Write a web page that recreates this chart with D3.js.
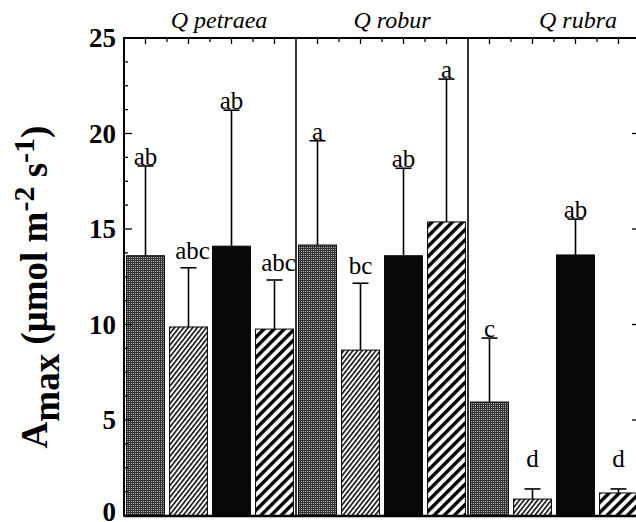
<!DOCTYPE html>
<html>
<head>
<meta charset="utf-8">
<script src="https://cdn.jsdelivr.net/npm/d3@7"></script>
<style>
  html, body { margin: 0; padding: 0; background: #fff; }
  svg { display: block; }
</style>
</head>
<body>
<div id="chart"></div>
<script>
// ---- data ----
const species = ["Q petraea", "Q robur", "Q rubra"];
const treatments = ["T1", "T2", "T3", "T4"];
const means = [
  [13.6, 9.87, 14.1, 9.76],
  [14.16, 8.66, 13.6, 15.37],
  [5.94, 0.86, 13.64, 1.18]
];
const errors = [
  [4.7, 3.1, 7.12, 2.57],
  [5.46, 3.5, 4.58, 7.48],
  [3.35, 0.53, 1.88, 0.21]
];
const letters = [
  ["ab", "abc", "ab", "abc"],
  ["a", "bc", "ab", "a"],
  ["c", "d", "ab", "d"]
];
const yTicks = [0, 5, 10, 15, 20, 25];

// ---- layout ----
const W = 636, H = 522;
const mLeft = 124, mRight = 640, mTop = 38, mBottom = 515.5;

const svg = d3.select("#chart").append("svg")
  .attr("width", W).attr("height", H)
  .style("font-family", "'Liberation Serif', 'Times New Roman', serif");

svg.append("rect").attr("width", W).attr("height", H).attr("fill", "#fff");

const defs = svg.append("defs");
const pStip = defs.append("pattern").attr("id", "stip")
  .attr("patternUnits", "userSpaceOnUse").attr("width", 2).attr("height", 2);
pStip.append("rect").attr("width", 2).attr("height", 2).attr("fill", "#333");
pStip.append("rect").attr("x", 1).attr("y", 1).attr("width", 1).attr("height", 1).attr("fill", "#b0b0b0");
const pFine = defs.append("pattern").attr("id", "fine")
  .attr("patternUnits", "userSpaceOnUse").attr("width", 3.6).attr("height", 10)
  .attr("patternTransform", "rotate(38)");
pFine.append("rect").attr("width", 3.6).attr("height", 10).attr("fill", "#fff");
pFine.append("rect").attr("width", 1.5).attr("height", 10).attr("fill", "#000");
const pCoarse = defs.append("pattern").attr("id", "coarse")
  .attr("patternUnits", "userSpaceOnUse").attr("width", 7.2).attr("height", 10)
  .attr("patternTransform", "rotate(45)");
pCoarse.append("rect").attr("width", 7.2).attr("height", 10).attr("fill", "#fff");
pCoarse.append("rect").attr("width", 3.4).attr("height", 10).attr("fill", "#000");

const fills = ["url(#stip)", "url(#fine)", "#080808", "url(#coarse)"];

const y = d3.scaleLinear().domain([0, 25]).range([mBottom, mTop]);
const x0 = d3.scaleBand().domain(species).range([mLeft, mRight]).paddingInner(0).paddingOuter(0);
const x1 = d3.scaleBand().domain(treatments).range([0, x0.bandwidth()]).paddingInner(0.12).paddingOuter(0.06);

const rows = [];
species.forEach((s, i) => treatments.forEach((t, j) => {
  rows.push({ s, t, j, m: means[i][j], e: errors[i][j], l: letters[i][j] });
}));

const cx = d => x0(d.s) + x1(d.t) + x1.bandwidth() / 2;

svg.append("g").selectAll("rect").data(rows).join("rect")
  .attr("x", d => x0(d.s) + x1(d.t))
  .attr("y", d => y(d.m))
  .attr("width", x1.bandwidth())
  .attr("height", d => y(0) - y(d.m))
  .attr("fill", d => fills[d.j])
  .attr("stroke", "#000").attr("stroke-width", 1);

const eb = svg.append("g").attr("stroke", "#000").attr("stroke-width", 1.6);
eb.selectAll("line.v").data(rows).join("line").attr("class", "v")
  .attr("x1", cx).attr("x2", cx)
  .attr("y1", d => y(d.m)).attr("y2", d => y(d.m + d.e));
eb.selectAll("line.c").data(rows).join("line").attr("class", "c")
  .attr("x1", d => cx(d) - 8).attr("x2", d => cx(d) + 8)
  .attr("y1", d => y(d.m + d.e)).attr("y2", d => y(d.m + d.e));

svg.append("g").selectAll("text").data(rows).join("text")
  .attr("x", d => cx(d) + (d.l.length > 2 ? 4 : 0))
  .attr("y", d => y(Math.max(d.m + d.e, 2.5)) - (d.l.length > 1 && d.l !== "ab" ? 9 : 1))
  .attr("text-anchor", "middle")
  .attr("font-size", 25)
  .text(d => d.l);

const frame = svg.append("g").attr("stroke", "#000").attr("fill", "none");
frame.append("line").attr("x1", mLeft).attr("x2", W).attr("y1", mTop).attr("y2", mTop).attr("stroke-width", 2);
frame.append("line").attr("x1", mLeft).attr("x2", mLeft).attr("y1", mTop - 1).attr("y2", mBottom + 1).attr("stroke-width", 2);
frame.append("line").attr("x1", mLeft).attr("x2", W).attr("y1", mBottom + 0.5).attr("y2", mBottom + 0.5).attr("stroke-width", 2.5);
species.slice(1).forEach(s => {
  frame.append("line").attr("x1", x0(s)).attr("x2", x0(s)).attr("y1", mTop).attr("y2", mBottom).attr("stroke-width", 1.6);
});

const minor = d3.range(0, 25.001, 1.25);
const ticksG = svg.append("g").attr("stroke", "#000").attr("stroke-width", 1.3);
ticksG.selectAll("line.lm").data(minor).join("line").attr("class", "lm")
  .attr("x1", mLeft).attr("x2", d => mLeft + (yTicks.includes(d) ? 8 : 4))
  .attr("y1", d => y(d)).attr("y2", d => y(d));
ticksG.selectAll("line.rm").data(minor).join("line").attr("class", "rm")
  .attr("x1", mRight).attr("x2", d => mRight - (yTicks.includes(d) ? 8 : 4))
  .attr("y1", d => y(d)).attr("y2", d => y(d));
const topTicks = [];
species.forEach(s => treatments.forEach((t, k) => {
  topTicks.push({ x: x0(s) + x1(t) + x1.bandwidth() / 2, major: true });
  if (k > 0) topTicks.push({ x: x0(s) + x1(t) - x1.step() * x1.paddingInner() / 2, major: false });
}));
ticksG.selectAll("line.t").data(topTicks).join("line").attr("class", "t")
  .attr("x1", d => d.x).attr("x2", d => d.x)
  .attr("y1", mTop).attr("y2", d => mTop + (d.major ? 6 : 4));

svg.append("g").selectAll("text").data(yTicks).join("text")
  .attr("x", 116).attr("y", d => Math.min(y(d), 512))
  .attr("dy", "0.35em")
  .attr("text-anchor", "end")
  .attr("font-size", 27).attr("font-weight", "bold")
  .text(d => d);

const titleX = [219, 392, 578];
svg.append("g").selectAll("text").data(species).join("text")
  .attr("x", (d, i) => titleX[i]).attr("y", 28)
  .attr("text-anchor", "middle")
  .attr("font-size", 24).attr("font-style", "italic")
  .text(d => d);

const yt = svg.append("text")
  .attr("transform", "translate(47,287) rotate(-90)")
  .attr("text-anchor", "middle")
  .attr("font-size", 37).attr("font-weight", "bold");
yt.append("tspan").text("A");
yt.append("tspan").attr("dy", 12).text("max");
yt.append("tspan").attr("dy", -12).text(" (\u03bcmol m");
yt.append("tspan").attr("dy", -13).attr("font-size", 30).text("-2");
yt.append("tspan").attr("dy", 13).text(" s");
yt.append("tspan").attr("dy", -13).attr("font-size", 30).text("-1");
yt.append("tspan").attr("dy", 13).text(")");
</script>
</body>
</html>
